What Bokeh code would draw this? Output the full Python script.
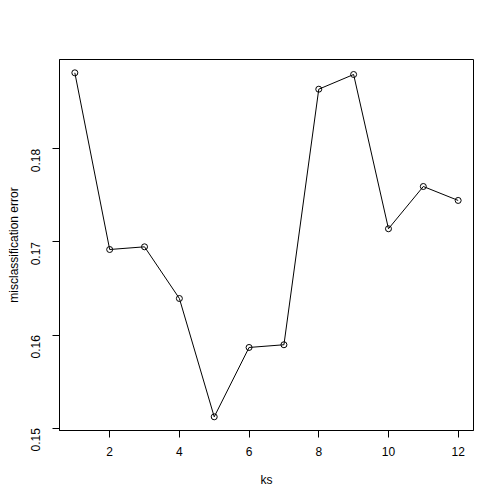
import math

from bokeh.plotting import figure
from bokeh.models import ColumnDataSource, FixedTicker, Range1d
from bokeh.embed import file_html
from bokeh.resources import INLINE

# misclassification error for each k
ks = [1, 2, 3, 4, 5, 6, 7, 8, 9, 10, 11, 12]
err = [0.18817, 0.16919, 0.16948, 0.16393, 0.15122, 0.15867,
       0.15896, 0.18641, 0.18799, 0.17142, 0.17596, 0.17446]

x_ticks = [2, 4, 6, 8, 10, 12]
y_ticks = [0.15, 0.16, 0.17, 0.18]

FONT = "Liberation Sans"

source = ColumnDataSource(data=dict(ks=ks, err=err))

p = figure(frame_width=414, frame_height=371,
           min_border_left=59, min_border_right=31,
           min_border_top=59, min_border_bottom=74,
           x_range=Range1d(0.56, 12.44), y_range=Range1d(0.14975, 0.18960),
           x_axis_label="ks", y_axis_label="misclassification error",
           output_backend="svg", toolbar_location=None)

p.line(x="ks", y="err", source=source, line_color="black", line_width=1)
p.scatter(x="ks", y="err", source=source, size=6, marker="circle",
          fill_color=None, line_color="black", line_width=1)

p.grid.visible = False
p.outline_line_color = "black"
p.outline_line_width = 1
p.background_fill_color = "white"
p.border_fill_color = "white"

p.xaxis.ticker = FixedTicker(ticks=x_ticks)
p.yaxis.ticker = FixedTicker(ticks=y_ticks)
p.yaxis.major_label_orientation = math.pi / 2

for ax in (p.xaxis[0], p.yaxis[0]):
    ax.axis_line_color = "black"
    ax.major_tick_line_color = "black"
    ax.major_tick_out = 7
    ax.major_tick_in = 0
    ax.minor_tick_line_color = None
    ax.major_label_text_font = FONT
    ax.major_label_text_font_size = "12px"
    ax.major_label_text_color = "black"
    ax.axis_label_text_font = FONT
    ax.axis_label_text_font_size = "12px"
    ax.axis_label_text_font_style = "normal"
    ax.axis_label_text_color = "black"

p.xaxis.major_label_standoff = 9
p.xaxis.axis_label_standoff = 14
p.yaxis.major_label_standoff = 17
p.yaxis.axis_label_standoff = 3

open("out.html", "w").write(file_html(p, INLINE))
